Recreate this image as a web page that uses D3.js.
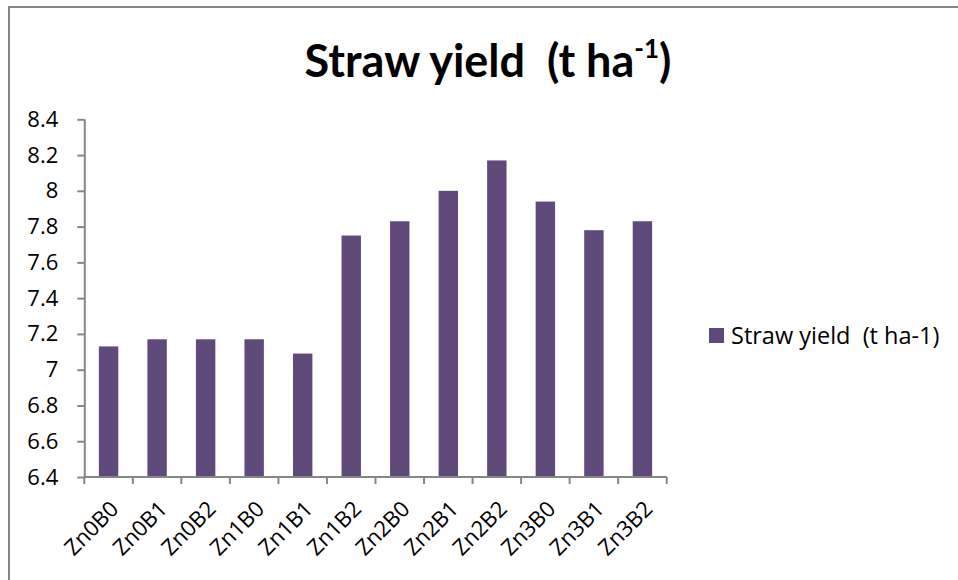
<!DOCTYPE html>
<html>
<head>
<meta charset="utf-8">
<script src="https://cdn.jsdelivr.net/npm/d3@7"></script>
<style>
  body { margin: 0; background: #fff; }
  svg { display: block; font-family: 'Open Sans', sans-serif; }
  text { white-space: pre; }
</style>
</head>
<body>
<div id="wrapper"></div>
<script>
// data
const categories = ['Zn0B0', 'Zn0B1', 'Zn0B2', 'Zn1B0', 'Zn1B1', 'Zn1B2',
  'Zn2B0', 'Zn2B1', 'Zn2B2', 'Zn3B0', 'Zn3B1', 'Zn3B2'];
const strawYield = [7.13, 7.17, 7.17, 7.17, 7.09, 7.75, 7.83, 8.0, 8.17, 7.94, 7.78, 7.83];
const yTicks = [6.4, 6.6, 6.8, 7, 7.2, 7.4, 7.6, 7.8, 8, 8.2, 8.4];
const seriesName = 'Straw yield  (t ha-1)';

const dataset = categories.map((c, i) => ({ cat: c, value: strawYield[i] }));
const xAccessor = d => d.cat;
const yAccessor = d => d.value;

// dimensions
let dimensions = {
  width: 958,
  height: 580,
  margin: { top: 119.3, right: 291.3, bottom: 103, left: 84.3 }
};
dimensions.boundedWidth = dimensions.width - dimensions.margin.left - dimensions.margin.right;
dimensions.boundedHeight = dimensions.height - dimensions.margin.top - dimensions.margin.bottom;

const gray = '#868686';
const barColor = '#604a7b';

const wrapper = d3.select('#wrapper')
  .append('svg')
  .attr('width', dimensions.width)
  .attr('height', dimensions.height);

// chart border (only top/left visible in frame)
wrapper.append('rect')
  .attr('x', 9).attr('y', 7)
  .attr('width', 1000).attr('height', 1000)
  .attr('fill', 'none')
  .attr('stroke', gray)
  .attr('stroke-width', 2);

// title
const title = wrapper.append('text')
  .attr('x', 488)
  .attr('y', 77)
  .attr('text-anchor', 'middle')
  .style('font-family', 'Lato, sans-serif')
  .style('font-size', '45px')
  .style('font-weight', 'bold')
  .attr('fill', '#000');
title.append('tspan').text('Straw yield  (t ha');
title.append('tspan').attr('dy', -19).style('font-size', '26px').text('-1');
title.append('tspan').attr('dy', 19).text(')');

const bounds = wrapper.append('g')
  .attr('transform', `translate(${dimensions.margin.left},${dimensions.margin.top})`);

// scales
const xScale = d3.scaleBand()
  .domain(categories)
  .range([0, dimensions.boundedWidth])
  .paddingInner(0.6)
  .paddingOuter(0.3);

const yScale = d3.scaleLinear()
  .domain([6.4, 8.4])
  .range([dimensions.boundedHeight, 0]);

// bars
bounds.selectAll('rect.bar')
  .data(dataset)
  .join('rect')
  .attr('class', 'bar')
  .attr('x', d => xScale(xAccessor(d)))
  .attr('y', d => yScale(yAccessor(d)))
  .attr('width', xScale.bandwidth())
  .attr('height', d => dimensions.boundedHeight - yScale(yAccessor(d)))
  .attr('fill', barColor);

// y axis
const yAxisGenerator = d3.axisLeft(yScale)
  .tickValues(yTicks)
  .tickFormat(d3.format('~g'))
  .tickSize(7)
  .tickPadding(19);
const yAxis = bounds.append('g').call(yAxisGenerator);
yAxis.select('.domain').attr('stroke', gray).attr('stroke-width', 2).attr('d', `M0.5,${dimensions.boundedHeight}V0`);
yAxis.selectAll('.tick line').attr('stroke', gray).attr('stroke-width', 2);
yAxis.selectAll('.tick text')
  .attr('fill', '#000')
  .style('font-size', '22px')
  .style('font-family', "'Open Sans', sans-serif");

// x axis with ticks at band edges
const xAxis = bounds.append('g')
  .attr('transform', `translate(0,${dimensions.boundedHeight})`);
xAxis.append('line')
  .attr('x1', 0).attr('x2', dimensions.boundedWidth)
  .attr('stroke', gray).attr('stroke-width', 2);
const step = xScale.step();
xAxis.selectAll('line.edge')
  .data(d3.range(categories.length + 1))
  .join('line')
  .attr('class', 'edge')
  .attr('x1', i => i * step).attr('x2', i => i * step)
  .attr('y1', 0).attr('y2', 7)
  .attr('stroke', gray).attr('stroke-width', 2);
xAxis.selectAll('text')
  .data(categories)
  .join('text')
  .attr('transform', d => `translate(${xScale(d) + xScale.bandwidth() / 2 + 6},${28}) rotate(-45)`)
  .attr('text-anchor', 'end')
  .attr('dy', '0.35em')
  .style('font-size', '22px')
  .attr('fill', '#000')
  .text(d => d);

// legend
const legend = wrapper.append('g').attr('transform', 'translate(709,328)');
legend.append('rect')
  .attr('width', 15).attr('height', 15)
  .attr('fill', barColor);
legend.append('text')
  .attr('x', 22).attr('y', 16)
  .style('font-size', '23.5px')
  .attr('fill', '#000')
  .text(seriesName);
</script>
</body>
</html>
